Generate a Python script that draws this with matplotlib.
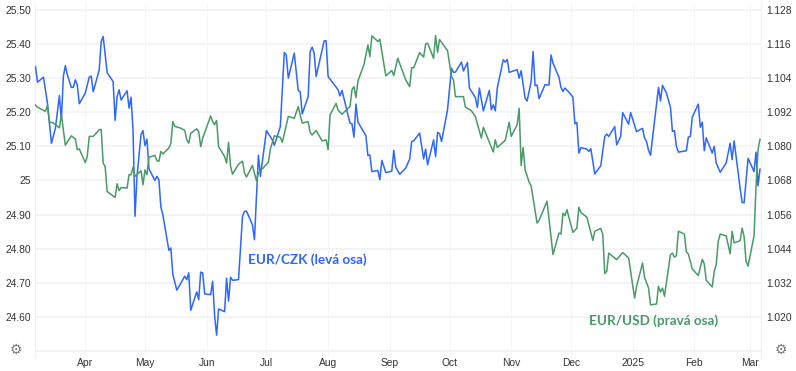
import numpy as np
import pandas as pd
import matplotlib
matplotlib.use('Agg')
from matplotlib import pyplot as plt

# days counted from 1 Apr 2024
czk_days = [-25,-24,-21,-19,-17,-15,-13,-12,-11,-10,-9,-7,-6,-5,-4,-3,0,2,3,4,7,8,9,11,14,15,16,17,18,21,22,23,24,25,26,
            28,29,30,31,32,35,36,37,38,39,42,43,44,46,50,51,52,53,56,57,58,59,60,63,64,65,66,67,70,71,72,73,74,77,79,80,81,
            84,85,87,88,91,94,95,98,100,101,102,105,107,108,109,112,113,114,115,116,120,121,122,127,128,129,133,134,135,136,
            137,141,142,143,144,147,148,149,151,154,155,156,158,161,163,164,165,168,170,171,172,175,176,177,178,179,182,184,
            185,186,189,190,192,193,196,197,198,200,203,204,205,206,207,210,211,212,213,217,218,219,221,222,224,225,226,227,
            228,231,233,234,235,238,239,240,241,243,245,246,247,248,249,252,253,254,256,259,261,262,263,266,267,269,270,273,
            274,277,280,281,282,283,284,288,289,290,292,294,295,296,297,298,302,303,304,305,308,309,310,311,312,315,316,317,
            319,322,324,325,326,329,330,331,333,336,337,338,339]
czk_vals = [25.334,25.288,25.303,25.227,25.109,25.153,25.249,25.178,25.305,25.337,25.310,25.273,25.273,25.295,25.280,25.225,
            25.256,25.303,25.306,25.260,25.324,25.407,25.422,25.316,25.290,25.176,25.246,25.266,25.236,25.263,25.212,25.244,
            25.148,24.895,25.012,25.134,25.146,25.102,25.121,25.034,25.000,25.012,25.002,24.922,24.899,24.795,24.802,24.724,
            24.678,24.719,24.709,24.729,24.619,24.673,24.650,24.731,24.729,24.667,24.665,24.704,24.602,24.546,24.623,24.615,
            24.713,24.646,24.716,24.707,24.709,24.895,24.909,24.910,24.870,24.826,25.074,25.012,25.146,25.119,25.103,25.158,
            25.375,25.368,25.300,25.373,25.264,25.260,25.195,25.246,25.378,25.391,25.373,25.305,25.409,25.410,25.305,25.266,
            25.248,25.264,25.168,25.166,25.127,25.224,25.171,25.131,25.073,25.075,25.026,25.029,25.002,25.059,25.023,25.027,
            25.088,25.039,25.018,25.036,25.063,25.114,25.116,25.139,25.063,25.092,25.046,25.119,25.070,25.141,25.137,25.114,
            25.207,25.329,25.317,25.318,25.347,25.321,25.346,25.271,25.243,25.214,25.271,25.204,25.264,25.207,25.222,25.204,
            25.271,25.354,25.347,25.355,25.317,25.325,25.300,25.322,25.241,25.233,25.290,25.378,25.278,25.280,25.240,25.281,
            25.280,25.368,25.344,25.303,25.273,25.261,25.271,25.259,25.244,25.166,25.170,25.080,25.096,25.092,25.085,25.093,
            25.019,25.043,25.129,25.136,25.129,25.158,25.104,25.129,25.199,25.165,25.199,25.143,25.153,25.124,25.114,25.088,
            25.074,25.273,25.233,25.279,25.256,25.215,25.144,25.146,25.100,25.083,25.087,25.127,25.129,25.186,25.224,25.156,
            25.171,25.087,25.125,25.080,25.100,25.051,25.024,25.051,25.109,25.061,25.116,24.978,24.936,24.934,25.065,25.026,
            25.083,24.984,25.033]

usd_days = [-25,-24,-20,-19,-18,-16,-13,-12,-10,-7,-5,-4,-3,0,1,2,4,7,8,9,10,11,15,16,17,18,21,22,23,24,25,28,29,30,31,32,35,
            36,37,38,39,42,43,44,45,48,50,51,52,53,56,57,58,59,63,64,65,66,67,70,71,72,73,74,77,79,80,81,84,86,87,92,93,95,98,
            99,102,105,107,109,112,113,114,116,119,121,122,123,126,127,129,132,133,134,135,136,137,140,142,143,144,147,148,
            151,154,155,157,161,163,164,165,168,170,171,172,175,176,177,178,182,184,185,186,190,191,194,196,199,200,205,206,
            207,211,213,214,217,218,219,220,221,223,224,227,228,232,235,238,239,240,241,242,245,247,248,249,252,255,256,259,
            260,261,262,263,267,270,273,276,277,280,281,283,284,287,288,289,290,291,294,295,296,297,298,301,302,303,305,308,
            310,311,312,315,316,317,318,319,322,324,325,326,329,330,331,332,333,336,337,338,339]
usd_vals = [1.0945,1.0938,1.0923,1.0945,1.0886,1.0882,1.0865,1.0911,1.0804,1.0837,1.0826,1.0788,1.0791,1.0743,1.0764,1.0835,
            1.0835,1.0858,1.0860,1.0741,1.0729,1.0641,1.0620,1.0668,1.0644,1.0655,1.0653,1.0700,1.0700,1.0727,1.0694,1.0714,
            1.0665,1.0717,1.0700,1.0762,1.0768,1.0750,1.0747,1.0782,1.0773,1.0794,1.0811,1.0887,1.0870,1.0864,1.0856,1.0823,
            1.0811,1.0846,1.0862,1.0852,1.0799,1.0829,1.0907,1.0887,1.0876,1.0891,1.0799,1.0764,1.0741,1.0814,1.0729,1.0702,
            1.0737,1.0748,1.0706,1.0692,1.0733,1.0679,1.0706,1.0744,1.0791,1.0837,1.0832,1.0814,1.0905,1.0899,1.0940,1.0882,
            1.0887,1.0849,1.0840,1.0856,1.0819,1.0823,1.0788,1.0911,1.0951,1.0928,1.0913,1.0934,1.0940,1.0999,1.1010,1.0972,
            1.1030,1.1087,1.1157,1.1116,1.1189,1.1169,1.1177,1.1048,1.1067,1.1049,1.1110,1.1034,1.1010,1.1077,1.1076,1.1130,
            1.1114,1.1160,1.1163,1.1110,1.1190,1.1131,1.1176,1.1137,1.1046,1.1034,1.0975,1.0975,1.0938,1.0925,1.0905,1.0829,
            1.0867,1.0780,1.0823,1.0796,1.0821,1.0885,1.0835,1.0876,1.0934,1.0732,1.0796,1.0717,1.0674,1.0661,1.0530,1.0539,
            1.0607,1.0419,1.0495,1.0491,1.0565,1.0556,1.0577,1.0497,1.0512,1.0586,1.0567,1.0551,1.0469,1.0501,1.0511,1.0491,
            1.0352,1.0360,1.0424,1.0401,1.0426,1.0407,1.0266,1.0307,1.0389,1.0339,1.0301,1.0242,1.0245,1.0307,1.0287,1.0301,
            1.0272,1.0419,1.0424,1.0410,1.0415,1.0501,1.0491,1.0428,1.0421,1.0368,1.0345,1.0402,1.0386,1.0328,1.0305,1.0360,
            1.0383,1.0465,1.0491,1.0485,1.0422,1.0501,1.0460,1.0468,1.0512,1.0483,1.0395,1.0378,1.0485,1.0659,1.0788,1.0825]

left_ticks = [24.6,24.7,24.8,24.9,25.0,25.1,25.2,25.3,25.4,25.5]
left_labels = ['24.60','24.70','24.80','24.90','25','25.10','25.20','25.30','25.40','25.50']
right_ticks = [1.020,1.032,1.044,1.056,1.068,1.080,1.092,1.104,1.116,1.128]
month_dates = ['2024-04-01','2024-05-01','2024-06-01','2024-07-01','2024-08-01','2024-09-01','2024-10-01','2024-11-01',
               '2024-12-01','2025-01-01','2025-02-01','2025-03-01']
month_labels = ['Apr','May','Jun','Jul','Aug','Sep','Oct','Nov','Dec','2025','Feb','Mar']

BLUE = '#2f66fb'
GREEN = '#4a9a68'
base = pd.Timestamp('2024-04-01')
W, H = 796, 371

def to_date(days):
    return base + pd.to_timedelta(np.array(days), unit='D')

fig = plt.figure(figsize=(W/100, H/100), dpi=100)
ax = fig.add_axes([35.3/W, 1-357/H, (761-35.3)/W, 354/H])
ax2 = ax.twinx()

ax.plot(to_date(czk_days), czk_vals, color=BLUE, lw=1.1, zorder=3)
ax2.plot(to_date(usd_days), usd_vals, color=GREEN, lw=1.1, zorder=3)

ax.set_xlim(to_date([-25.1])[0], to_date([339.5])[0])
ax.set_ylim(24.482, 25.5205)
ax2.set_ylim(1.128-(25.5-24.482)*0.12, 1.128+0.0205*0.12)

ax.set_yticks(left_ticks, left_labels)
ax2.set_yticks(right_ticks, ['%.3f' % t for t in right_ticks])
ax.set_xticks(pd.to_datetime(month_dates), month_labels)
ax.axhline(24.5, color='#f0f2f6', lw=1.2, zorder=1)

ax.grid(axis='y', color='#f0f2f6', lw=1.2)
ax.grid(axis='x', color='#f3f6fa', lw=0.8)
ax.set_axisbelow(True)
for a in (ax, ax2):
    a.tick_params(length=0, labelsize=7.4, labelcolor='#333333', labelfontfamily='Liberation Sans')
    for s in a.spines.values():
        s.set_visible(False)
ax.tick_params(axis='y', pad=3)
ax2.tick_params(axis='y', pad=3.5)
ax.tick_params(axis='x', pad=1)
ax.spines['left'].set_visible(True)
ax.spines['left'].set_color('#f0f2f6')
ax2.spines['right'].set_visible(True)
ax2.spines['right'].set_color('#f0f2f6')

ax2.text(to_date([82])[0], 1.128-(25.5-24.768)*0.12, 'EUR/CZK (levá osa)', color=BLUE, fontsize=9.7,
         fontfamily='Lato', fontweight='bold', va='center', ha='left', zorder=5)
ax2.text(to_date([253])[0], 1.0188, 'EUR/USD (pravá osa)', color=GREEN, fontsize=9.7,
         fontfamily='Lato', fontweight='bold', va='center', ha='left', zorder=5)

# settings gears
for gx in (15.5, 781):
    fig.text(gx/W, 1-350/H, '\u2699', color='#777777', fontsize=10, fontfamily='DejaVu Sans', ha='center', va='center')

fig.savefig('out.png', dpi=100)
plt.close()
